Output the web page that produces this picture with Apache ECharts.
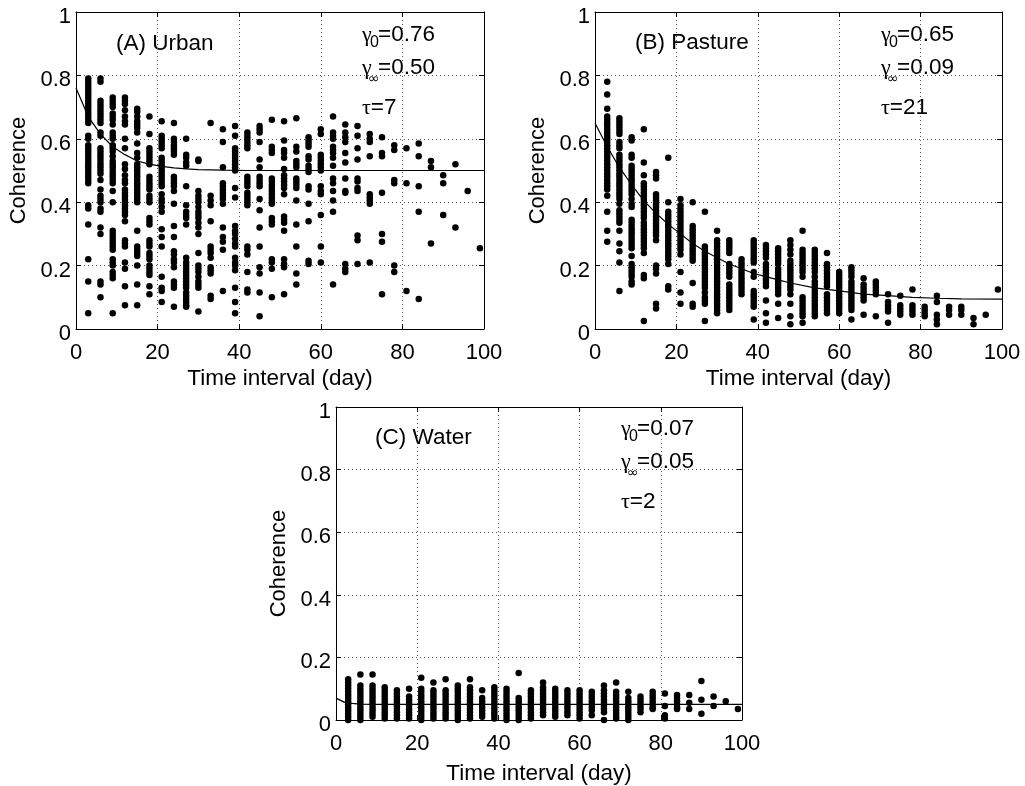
<!DOCTYPE html>
<html><head><meta charset="utf-8">
<script src="https://cdn.jsdelivr.net/npm/echarts@6/dist/echarts.min.js"></script>
<style>html,body{margin:0;padding:0;background:#fff}#c{width:1025px;height:786px}</style>
</head><body><div id="c"></div>
<script>
// ---------- data ----------
const xTicks = [0, 20, 40, 60, 80, 100];
const yTicks = [0, 0.2, 0.4, 0.6, 0.8, 1];
const days = [3,6,9,12,15,18,21,24,27,30,33,36,39,42,45,48,51,54,57,60,63,66,69,72,75,78,81,84,87,90,93,96,99];

const urbanVals = [
 [0.79,0.78,0.77,0.76,0.75,0.74,0.73,0.72,0.71,0.70,0.69,0.68,0.67,0.66,0.65,0.61,0.60,0.58,0.57,0.56,0.55,0.54,0.53,0.52,0.51,0.50,0.49,0.48,0.47,0.46,0.39,0.38,0.33,0.22,0.15,0.05],
 [0.79,0.78,0.72,0.71,0.70,0.69,0.68,0.67,0.66,0.65,0.62,0.61,0.57,0.56,0.55,0.54,0.53,0.52,0.51,0.50,0.49,0.47,0.44,0.42,0.41,0.40,0.38,0.37,0.32,0.30,0.15,0.14,0.10],
 [0.73,0.72,0.71,0.70,0.68,0.67,0.66,0.645,0.62,0.61,0.60,0.58,0.57,0.56,0.545,0.53,0.52,0.51,0.50,0.49,0.48,0.47,0.46,0.435,0.40,0.31,0.30,0.29,0.28,0.27,0.26,0.25,0.22,0.21,0.20,0.18,0.17,0.16,0.05],
 [0.73,0.72,0.71,0.69,0.67,0.655,0.645,0.60,0.57,0.52,0.505,0.485,0.47,0.46,0.44,0.43,0.42,0.41,0.40,0.39,0.38,0.37,0.36,0.34,0.28,0.27,0.26,0.21,0.19,0.135,0.075],
 [0.695,0.685,0.67,0.655,0.645,0.635,0.62,0.585,0.555,0.54,0.52,0.51,0.50,0.49,0.48,0.47,0.46,0.45,0.44,0.43,0.42,0.41,0.40,0.31,0.26,0.25,0.24,0.23,0.20,0.14,0.075],
 [0.67,0.615,0.57,0.56,0.55,0.54,0.53,0.52,0.48,0.47,0.46,0.45,0.44,0.42,0.41,0.40,0.35,0.34,0.33,0.28,0.27,0.26,0.24,0.23,0.22,0.20,0.19,0.18,0.17,0.135,0.11],
 [0.655,0.61,0.60,0.59,0.58,0.57,0.54,0.53,0.52,0.51,0.50,0.49,0.48,0.47,0.46,0.45,0.425,0.41,0.40,0.385,0.37,0.315,0.29,0.26,0.165,0.13,0.12,0.085],
 [0.65,0.60,0.59,0.58,0.57,0.56,0.55,0.48,0.47,0.46,0.45,0.435,0.395,0.325,0.29,0.245,0.235,0.22,0.21,0.195,0.15,0.14,0.13,0.07],
 [0.60,0.55,0.54,0.525,0.515,0.45,0.39,0.37,0.36,0.35,0.33,0.225,0.21,0.20,0.19,0.18,0.17,0.16,0.15,0.14,0.13,0.115,0.105,0.095,0.085,0.075,0.07],
 [0.535,0.53,0.435,0.42,0.41,0.40,0.385,0.37,0.36,0.35,0.335,0.32,0.30,0.24,0.20,0.19,0.18,0.165,0.15,0.14,0.13,0.055],
 [0.65,0.42,0.405,0.39,0.34,0.26,0.25,0.24,0.225,0.195,0.185,0.175,0.105,0.095],
 [0.63,0.59,0.51,0.46,0.45,0.44,0.43,0.42,0.41,0.395,0.32,0.29,0.275,0.25,0.12],
 [0.64,0.61,0.57,0.56,0.55,0.54,0.53,0.52,0.51,0.50,0.445,0.415,0.325,0.31,0.30,0.285,0.27,0.26,0.225,0.21,0.20,0.185,0.13,0.085,0.05],
 [0.62,0.61,0.60,0.59,0.58,0.57,0.48,0.47,0.46,0.45,0.43,0.42,0.41,0.40,0.39,0.26,0.25,0.235,0.18,0.125,0.115],
 [0.64,0.63,0.62,0.59,0.535,0.51,0.48,0.47,0.46,0.45,0.41,0.375,0.32,0.26,0.195,0.175,0.115,0.04],
 [0.66,0.575,0.565,0.555,0.475,0.465,0.455,0.445,0.435,0.425,0.415,0.405,0.395,0.35,0.34,0.33,0.22,0.21,0.19,0.10],
 [0.655,0.595,0.565,0.555,0.54,0.505,0.485,0.475,0.465,0.455,0.445,0.425,0.355,0.345,0.335,0.31,0.22,0.205,0.195,0.11],
 [0.665,0.575,0.56,0.53,0.52,0.51,0.475,0.465,0.455,0.445,0.405,0.33,0.26,0.175,0.14],
 [0.605,0.595,0.585,0.575,0.545,0.535,0.515,0.505,0.495,0.45,0.44,0.395,0.34,0.215,0.205],
 [0.63,0.615,0.55,0.54,0.53,0.52,0.51,0.50,0.45,0.435,0.425,0.36,0.26,0.21],
 [0.67,0.62,0.61,0.60,0.575,0.565,0.555,0.54,0.515,0.475,0.46,0.435,0.405,0.37,0.14],
 [0.645,0.62,0.605,0.59,0.555,0.525,0.475,0.435,0.43,0.205,0.19,0.18],
 [0.64,0.61,0.57,0.535,0.475,0.465,0.445,0.435,0.295,0.28,0.205],
 [0.615,0.60,0.59,0.545,0.425,0.415,0.405,0.395,0.21],
 [0.605,0.555,0.545,0.43,0.30,0.275,0.11],
 [0.58,0.565,0.47,0.46,0.20,0.18],
 [0.57,0.46,0.12],
 [0.585,0.545,0.45,0.37,0.095],
 [0.53,0.51,0.27],
 [0.485,0.46,0.36],
 [0.52,0.32],
 [0.435],
 [0.255]
];

const pastureVals = [
 [0.78,0.74,0.695,0.67,0.66,0.65,0.64,0.63,0.62,0.61,0.60,0.59,0.58,0.57,0.56,0.55,0.54,0.53,0.52,0.51,0.50,0.49,0.48,0.47,0.46,0.45,0.44,0.42,0.37,0.31,0.275],
 [0.665,0.655,0.645,0.635,0.625,0.615,0.59,0.58,0.57,0.55,0.54,0.53,0.52,0.51,0.50,0.49,0.48,0.47,0.46,0.45,0.44,0.43,0.42,0.41,0.395,0.375,0.365,0.355,0.345,0.335,0.31,0.27,0.245,0.21,0.12],
 [0.605,0.595,0.55,0.54,0.515,0.505,0.495,0.485,0.475,0.465,0.455,0.445,0.435,0.425,0.41,0.395,0.385,0.345,0.335,0.325,0.315,0.305,0.295,0.285,0.275,0.265,0.255,0.23,0.205,0.195,0.185,0.175,0.165,0.15,0.14],
 [0.63,0.525,0.485,0.46,0.45,0.44,0.43,0.42,0.41,0.40,0.39,0.38,0.37,0.36,0.35,0.335,0.325,0.315,0.305,0.295,0.285,0.275,0.265,0.255,0.24,0.17,0.16,0.025],
 [0.495,0.485,0.475,0.425,0.415,0.405,0.395,0.385,0.375,0.365,0.355,0.345,0.335,0.325,0.315,0.305,0.295,0.28,0.20,0.19,0.175,0.08,0.065],
 [0.54,0.40,0.37,0.36,0.35,0.34,0.33,0.32,0.31,0.30,0.29,0.28,0.27,0.26,0.25,0.24,0.23,0.22,0.205,0.135,0.125],
 [0.41,0.39,0.38,0.37,0.36,0.35,0.34,0.33,0.32,0.31,0.30,0.29,0.28,0.27,0.26,0.25,0.235,0.18,0.115,0.08],
 [0.40,0.325,0.315,0.305,0.295,0.285,0.275,0.265,0.255,0.245,0.235,0.225,0.215,0.145,0.08,0.07],
 [0.37,0.26,0.25,0.24,0.23,0.22,0.21,0.20,0.19,0.18,0.17,0.16,0.15,0.14,0.13,0.115,0.10,0.09,0.08,0.025],
 [0.31,0.28,0.27,0.26,0.25,0.24,0.23,0.22,0.21,0.20,0.19,0.18,0.17,0.16,0.15,0.14,0.13,0.12,0.11,0.10,0.09,0.08,0.07,0.06,0.05],
 [0.28,0.27,0.26,0.25,0.24,0.205,0.195,0.185,0.175,0.165,0.14,0.13,0.12,0.11,0.10,0.09,0.08,0.07,0.06],
 [0.22,0.21,0.20,0.19,0.18,0.17,0.16,0.15,0.14,0.13,0.12,0.11],
 [0.28,0.27,0.26,0.25,0.24,0.23,0.22,0.21,0.18,0.165,0.12,0.11,0.10,0.09,0.08,0.07,0.03],
 [0.265,0.255,0.245,0.235,0.225,0.205,0.195,0.185,0.175,0.165,0.155,0.145,0.135,0.09,0.05,0.02],
 [0.255,0.245,0.235,0.225,0.215,0.205,0.19,0.18,0.17,0.16,0.15,0.14,0.13,0.12,0.11,0.08,0.035],
 [0.28,0.265,0.25,0.235,0.215,0.205,0.195,0.185,0.175,0.165,0.155,0.145,0.135,0.125,0.11,0.08,0.04,0.015],
 [0.31,0.25,0.24,0.23,0.22,0.21,0.20,0.19,0.18,0.165,0.10,0.09,0.08,0.07,0.06,0.05,0.04,0.02],
 [0.25,0.24,0.23,0.22,0.21,0.20,0.19,0.18,0.165,0.15,0.14,0.13,0.12,0.11,0.10,0.09,0.08,0.07,0.06,0.05,0.04],
 [0.24,0.205,0.195,0.185,0.175,0.165,0.155,0.145,0.135,0.11,0.10,0.09,0.08,0.07,0.06,0.05],
 [0.18,0.17,0.16,0.15,0.14,0.13,0.12,0.11,0.10,0.09,0.08,0.07,0.06,0.05],
 [0.195,0.185,0.175,0.165,0.15,0.14,0.13,0.12,0.11,0.10,0.09,0.08,0.07,0.06,0.03],
 [0.16,0.14,0.13,0.12,0.11,0.10,0.09,0.045],
 [0.15,0.14,0.13,0.12,0.11,0.04],
 [0.11,0.085,0.075,0.065,0.055,0.02],
 [0.105,0.075,0.065,0.055,0.045],
 [0.125,0.075,0.065,0.055,0.045],
 [0.07,0.06,0.05,0.04],
 [0.105,0.085,0.045,0.03,0.015],
 [0.07,0.06,0.045],
 [0.07,0.06,0.045],
 [0.035,0.015],
 [0.045],
 [0.125]
];

const waterVals = [
 [0.13,0.12,0.11,0.10,0.09,0.08,0.07,0.06,0.05,0.04,0.03,0.02,0.01,0.00],
 [0.145,0.11,0.10,0.09,0.08,0.07,0.06,0.05,0.04,0.03,0.02,0.01,0.00],
 [0.145,0.11,0.10,0.09,0.08,0.07,0.06,0.05,0.04,0.03,0.02,0.01],
 [0.105,0.095,0.085,0.075,0.065,0.055,0.045,0.035,0.025,0.015,0.005],
 [0.095,0.085,0.075,0.065,0.055,0.045,0.035,0.025,0.015,0.005],
 [0.10,0.075,0.065,0.055,0.045,0.035,0.025,0.015,0.005],
 [0.135,0.10,0.09,0.08,0.07,0.06,0.05,0.04,0.03,0.02,0.01,0.00],
 [0.12,0.095,0.085,0.075,0.065,0.055,0.045,0.035,0.025,0.015,0.005],
 [0.13,0.095,0.085,0.075,0.065,0.055,0.045,0.035,0.025,0.015,0.005],
 [0.11,0.10,0.09,0.08,0.07,0.06,0.05,0.04,0.03,0.02,0.01,0.00],
 [0.13,0.105,0.095,0.085,0.075,0.065,0.055,0.045,0.035,0.025,0.015,0.005],
 [0.095,0.07,0.06,0.05,0.04,0.03,0.02,0.01],
 [0.105,0.095,0.085,0.075,0.065,0.055,0.045,0.035,0.025,0.015,0.005],
 [0.10,0.09,0.08,0.07,0.06,0.05,0.04,0.03,0.02,0.01,0.00],
 [0.15,0.07,0.06,0.05,0.04,0.03,0.02,0.01,0.00],
 [0.095,0.085,0.075,0.065,0.055,0.045,0.035,0.025,0.015,0.005],
 [0.12,0.105,0.095,0.085,0.075,0.065,0.055,0.045,0.035,0.025,0.015],
 [0.10,0.09,0.08,0.07,0.06,0.05,0.04,0.03,0.02,0.01],
 [0.095,0.085,0.075,0.065,0.055,0.045,0.035,0.025,0.015],
 [0.095,0.085,0.075,0.065,0.055,0.045,0.035,0.025,0.015,0.005],
 [0.09,0.08,0.07,0.06,0.05,0.04,0.03,0.015],
 [0.11,0.095,0.085,0.075,0.065,0.055,0.045,0.035,0.025,0.00],
 [0.12,0.09,0.08,0.07,0.06,0.05,0.04,0.03,0.02,0.01,0.005],
 [0.09,0.07,0.06,0.05,0.04,0.03,0.02,0.01,0.00],
 [0.075,0.065,0.055,0.045,0.035,0.025],
 [0.09,0.08,0.07,0.06,0.05,0.04,0.035],
 [0.085,0.045,0.015,0.005],
 [0.08,0.07,0.06,0.05,0.04,0.035],
 [0.08,0.055,0.035],
 [0.125,0.065,0.02],
 [0.075,0.045],
 [0.06],
 [0.035]
];

// fitted curves
const urbanFitDays   = [0,3,6,9,12,15,18,21,24,27,30,36,42,48,60,80,100];
const urbanFitVals   = [0.76,0.67,0.615,0.575,0.55,0.53,0.52,0.513,0.508,0.505,0.503,0.501,0.5,0.5,0.5,0.5,0.5];
const pastureFitDays = [0,3,6,9,12,15,18,21,24,27,30,33,36,39,42,45,48,54,60,66,72,78,84,90,100];
const pastureFitVals = [0.65,0.575,0.51,0.455,0.405,0.365,0.33,0.3,0.27,0.245,0.225,0.205,0.19,0.175,0.165,0.155,0.145,0.13,0.12,0.11,0.105,0.1,0.097,0.095,0.094];
const waterFitDays   = [0,2,4,6,10,20,40,60,80,100];
const waterFitVals   = [0.07,0.057,0.053,0.051,0.05,0.05,0.05,0.05,0.05,0.05];

const panelTitles = ['(A) Urban', '(B) Pasture', '(C) Water'];
const gamma0 = ['0.76', '0.65', '0.07'];
const gammaInf = ['0.50', '0.09', '0.05'];
const tau = ['7', '21', '2'];
const xName = 'Time interval (day)';
const yName = 'Coherence';

// ---------- chart ----------
const FONT = 'Liberation Sans';
const grids = [
  {left: 76, top: 12, width: 408, height: 317},
  {left: 595, top: 12, width: 407, height: 317},
  {left: 336, top: 407, width: 406, height: 315}
];
const xNameGaps = [38, 38, 42];

function pts(vals) {
  const out = [];
  vals.forEach((col, i) => col.forEach(v => out.push([days[i], v])));
  return out;
}
function pairs(xs, ys) { return xs.map((x, i) => [x, ys[i]]); }

const xAxes = [], yAxes = [], series = [];
const dotted = {color: '#555', type: [1, 3], width: 1};
grids.forEach((g, i) => {
  xAxes.push({
    gridIndex: i, type: 'value', min: xTicks[0], max: xTicks[xTicks.length - 1], interval: xTicks[1] - xTicks[0],
    position: 'bottom',
    axisLine: {show: true, onZero: false, lineStyle: {color: '#000', width: 1}},
    axisTick: {show: true, inside: true, length: 5, lineStyle: {color: '#000'}},
    axisLabel: {color: '#000', fontSize: 22, fontFamily: FONT, margin: 13},
    splitLine: {show: true, lineStyle: dotted},
    name: xName, nameLocation: 'middle', nameGap: xNameGaps[i],
    nameTextStyle: {color: '#000', fontSize: 22.5, fontFamily: FONT}
  });
  xAxes.push({
    gridIndex: i, type: 'value', min: xTicks[0], max: xTicks[xTicks.length - 1], interval: xTicks[1] - xTicks[0],
    position: 'top',
    axisLine: {show: true, onZero: false, lineStyle: {color: '#000', width: 1}},
    axisTick: {show: true, inside: true, length: 5, lineStyle: {color: '#000'}},
    axisLabel: {show: false}, splitLine: {show: false}
  });
  yAxes.push({
    gridIndex: i, type: 'value', min: yTicks[0], max: yTicks[yTicks.length - 1], interval: yTicks[1] - yTicks[0],
    position: 'left',
    axisLine: {show: true, onZero: false, lineStyle: {color: '#000', width: 1}},
    axisTick: {show: true, inside: true, length: 5, lineStyle: {color: '#000'}},
    axisLabel: {color: '#000', fontSize: 22, fontFamily: FONT, margin: 5, verticalAlign: 'top', lineHeight: 10},
    splitLine: {show: true, lineStyle: dotted},
    name: yName, nameLocation: 'middle', nameGap: 46, nameRotate: 90,
    nameTextStyle: {color: '#000', fontSize: 22, fontFamily: FONT}
  });
  yAxes.push({
    gridIndex: i, type: 'value', min: yTicks[0], max: yTicks[yTicks.length - 1], interval: yTicks[1] - yTicks[0],
    position: 'right',
    axisLine: {show: true, onZero: false, lineStyle: {color: '#000', width: 1}},
    axisTick: {show: true, inside: true, length: 5, lineStyle: {color: '#000'}},
    axisLabel: {show: false}, splitLine: {show: false}
  });
});

const allVals = [urbanVals, pastureVals, waterVals];
const fits = [pairs(urbanFitDays, urbanFitVals), pairs(pastureFitDays, pastureFitVals), pairs(waterFitDays, waterFitVals)];
allVals.forEach((v, i) => {
  series.push({
    type: 'scatter', xAxisIndex: 2 * i, yAxisIndex: 2 * i, data: pts(v),
    symbol: 'circle', symbolSize: 6.5, itemStyle: {color: '#000', opacity: 1}, silent: true
  });
  series.push({
    type: 'line', xAxisIndex: 2 * i, yAxisIndex: 2 * i, data: fits[i],
    symbol: 'none', lineStyle: {color: '#000', width: 1.2}, silent: true, z: 3
  });
});

// annotations
const graphic = [];
const annoPos = [
  {tx: 116, ty: 44, gx: 362, gy: 35},
  {tx: 635, ty: 43, gx: 881, gy: 35},
  {tx: 375, ty: 438, gx: 621, gy: 429}
];
function txt(x, y, s, size, fam) {
  return {type: 'text', x: x, y: y, silent: true,
    style: {text: s, fill: '#000', fontSize: size, fontFamily: fam || FONT, align: 'left', verticalAlign: 'middle'}};
}
annoPos.forEach((p, i) => {
  graphic.push(txt(p.tx, p.ty, panelTitles[i], 22.5));
  graphic.push(txt(p.gx, p.gy, 'γ', 22, 'Liberation Serif'));
  graphic.push(txt(p.gx + 8, p.gy + 8, '0', 16));
  graphic.push(txt(p.gx + 16, p.gy, '=' + gamma0[i], 22.5));
  graphic.push(txt(p.gx, p.gy + 33, 'γ', 22, 'Liberation Serif'));
  graphic.push(txt(p.gx + 6, p.gy + 44, '∞', 14, 'DejaVu Sans'));
  graphic.push(txt(p.gx + 16, p.gy + 33, '=' + gammaInf[i], 22.5));
  const t = txt(p.gx, p.gy + 73, '{t|τ}=' + tau[i], 22.5);
  t.style.rich = {t: {fontFamily: 'Liberation Serif', fontSize: 22}};
  graphic.push(t);
});

const chart = echarts.init(document.getElementById('c'), null, {renderer: 'canvas'});
chart.setOption({
  animation: false,
  backgroundColor: '#fff',
  grid: grids.map(g => Object.assign({show: false, containLabel: false}, g)),
  xAxis: xAxes, yAxis: yAxes, series: series, graphic: graphic
});
</script></body></html>
